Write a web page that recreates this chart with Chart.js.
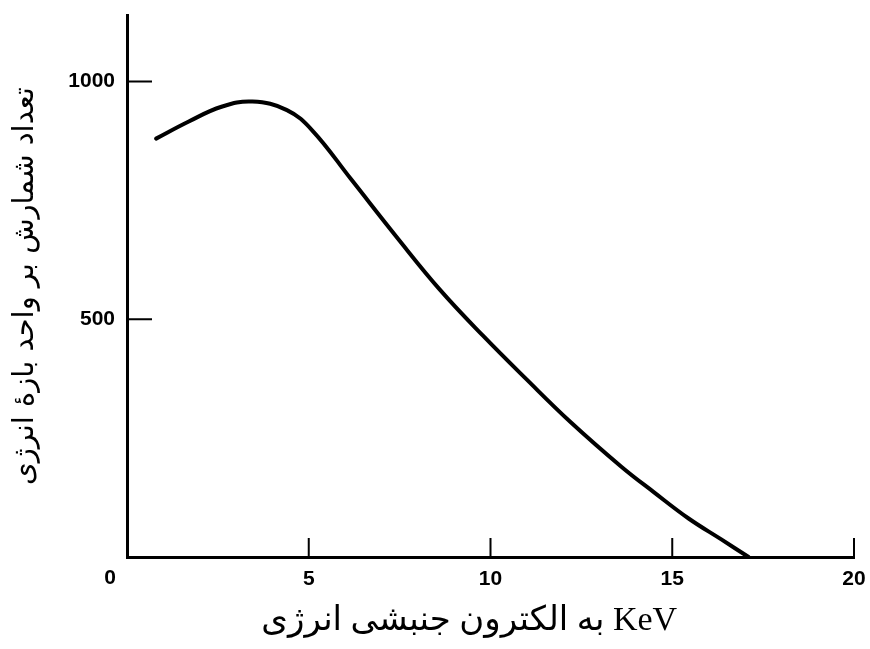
<!DOCTYPE html>
<html lang="fa">
<head>
<meta charset="UTF-8">
<title>Electron energy spectrum</title>
<script src="https://cdn.jsdelivr.net/npm/chart.js@4.4.0/dist/chart.umd.min.js"></script>
<style>
    body { margin: 0; background: #fff; }
    #chartBox { width: 870px; height: 649px; }
</style>
</head>
<body>
<div id="chartBox"><canvas id="spectrumChart"></canvas></div>
<script>
// Data
const energyKeV = [0.8, 1.7, 2.6, 3.45, 4.4, 5.1, 6.15, 7.45, 8.6, 9.8, 11.0, 12.2, 13.6, 14.5, 15.45, 16.35, 17.1];
const countsPerBin = [880, 916, 947, 958, 940, 897, 796, 670, 563, 465, 373, 284, 190, 136, 81, 37, 0];

// Ticks and labels
const xTickValues = [5, 10, 15, 20];
const yTickValues = [500, 1000];
const originLabel = '0';
// word order as it appears on the printed figure (left to right: انرژی ... به KeV);
// trailing spaces nudge the centred title a little to the left, like the original
const xTitle = 'به الکترون جنبشی انرژی KeV     ';
const yTitle = 'تعداد شمارش بر واحد بازهٔ انرژی';

let spectrumChart;

const tickFont = { family: '"Liberation Sans", Arial, sans-serif', size: 21, weight: 'bold' };

// Tick marks drawn inside the plot, plus the shared "0" at the corner
const innerTicks = {
    id: 'innerTicks',
    afterDraw(chart) {
        const { ctx, chartArea } = chart;
        const x = chart.scales.x;
        const y = chart.scales.y;
        ctx.save();
        ctx.strokeStyle = '#000';
        ctx.lineWidth = 2;
        ctx.beginPath();
        xTickValues.forEach(v => {
            const px = x.getPixelForValue(v);
            ctx.moveTo(px, chartArea.bottom);
            ctx.lineTo(px, chartArea.bottom - 19);
        });
        yTickValues.forEach(v => {
            const py = y.getPixelForValue(v);
            ctx.moveTo(chartArea.left, py);
            ctx.lineTo(chartArea.left + 25, py);
        });
        ctx.stroke();

        ctx.fillStyle = '#000';
        ctx.font = 'bold 21px "Liberation Sans", Arial, sans-serif';
        ctx.textAlign = 'center';
        ctx.textBaseline = 'middle';
        ctx.fillText(originLabel, x.getPixelForValue(0) - 17, chartArea.bottom + 21);
        ctx.restore();
    }
};

function drawChart() {
    const ctx = document.getElementById('spectrumChart').getContext('2d');
    const points = energyKeV.map((e, i) => ({ x: e, y: countsPerBin[i] }));

    spectrumChart = new Chart(ctx, {
        type: 'line',
        data: {
            datasets: [{
                data: points,
                borderColor: '#000',
                borderWidth: 4,
                pointRadius: 0,
                fill: false,
                tension: 0.4,
                borderCapStyle: 'round',
                clip: false
            }]
        },
        options: {
            responsive: true,
            maintainAspectRatio: false,
            animation: false,
            layout: { padding: { top: 15, right: 16, bottom: 0, left: 4 } },
            plugins: {
                legend: { display: false },
                tooltip: { enabled: false }
            },
            scales: {
                x: {
                    type: 'linear',
                    min: 0,
                    max: 20,
                    afterBuildTicks: scale => {
                        scale.ticks = xTickValues.map(v => ({ value: v }));
                    },
                    afterFit: scale => {
                        scale.height = 92;
                        scale.paddingLeft = 0;
                        scale.paddingRight = 0;
                    },
                    grid: { display: false },
                    border: { display: true, color: '#000', width: 3 },
                    ticks: { color: '#000', font: tickFont, padding: 2, maxRotation: 0 },
                    title: {
                        display: true,
                        text: xTitle,
                        color: '#000',
                        font: { family: '"Liberation Serif", "DejaVu Sans", serif', size: 34 },
                        padding: { top: 0, bottom: 8 }
                    }
                },
                y: {
                    min: 0,
                    max: 1140,
                    afterBuildTicks: scale => {
                        scale.ticks = yTickValues.map(v => ({ value: v }));
                    },
                    afterFit: scale => {
                        scale.width = 123;
                        scale.paddingTop = 0;
                        scale.paddingBottom = 0;
                    },
                    grid: { display: false },
                    border: { display: true, color: '#000', width: 3 },
                    ticks: {
                        color: '#000',
                        font: tickFont,
                        padding: 4,
                        callback: value => String(value)
                    },
                    title: {
                        display: true,
                        text: yTitle,
                        color: '#000',
                        font: { family: '"DejaVu Sans", serif', size: 29 },
                        padding: { top: 4, bottom: 4 }
                    }
                }
            }
        },
        plugins: [innerTicks]
    });
}

document.addEventListener('DOMContentLoaded', drawChart);
</script>
</body>
</html>
